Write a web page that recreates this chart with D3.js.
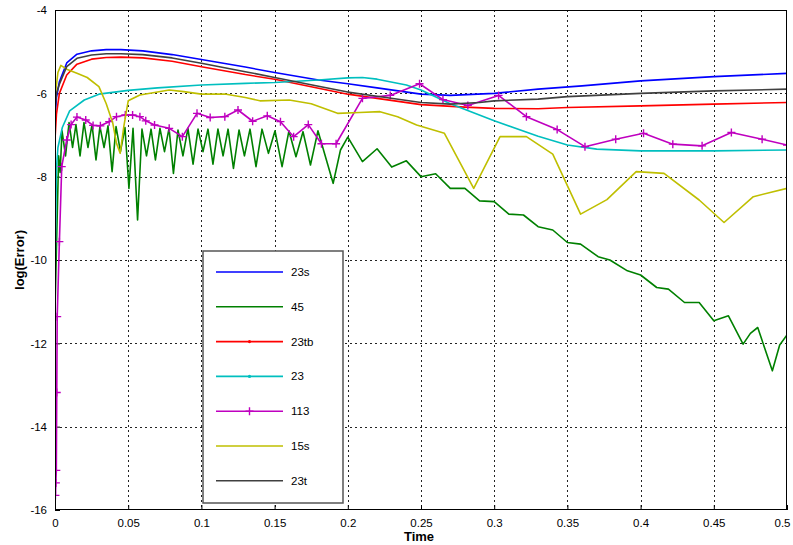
<!DOCTYPE html>
<html><head><meta charset="utf-8">
<script src="https://cdn.jsdelivr.net/npm/d3@7"></script>
<style>body{margin:0;background:#fff}svg{display:block;font-family:"Liberation Sans",Arial,sans-serif}</style>
</head><body><svg id="c" width="793" height="545"></svg>
<script>
const seriesNames = ["23s","45","23tb","23","113","15s","23t"];
const seriesColors = ["#0000ff","#008000","#ff0000","#00bfbf","#bf00bf","#bfbf00","#404040"];
const xTicks = [0,0.05,0.1,0.15,0.2,0.25,0.3,0.35,0.4,0.45,0.5];
const xTickLabels = ["0","0.05","0.1","0.15","0.2","0.25","0.3","0.35","0.4","0.45","0.5"];
const yTicks = [-4,-6,-8,-10,-12,-14,-16];
const yTickLabels = ["-4","-6","-8","-10","-12","-14","-16"];

const t23s = [0,0.001,0.003,0.008,0.015,0.025,0.035,0.045,0.06,0.08,0.1,0.13,0.15,0.18,0.2,0.22,0.25,0.27,0.3,0.33,0.36,0.4,0.45,0.5];
const v23s = [-6.6,-6.1,-5.72,-5.27,-5.06,-4.98,-4.95,-4.95,-4.98,-5.07,-5.19,-5.37,-5.5,-5.68,-5.77,-5.87,-6.02,-6.05,-6.0,-5.9,-5.82,-5.7,-5.6,-5.52];

const t45 = [0,0.0012,0.0025,0.0035,0.0048,0.0072,0.0096,0.012,0.0143,0.0171,0.0198,0.0225,0.0253,0.028,0.0307,0.0335,0.0362,0.039,0.0417,0.0447,0.0478,0.0505,0.0533,0.0564,0.0594,0.0625,0.0656,0.0686,0.0717,0.0748,0.0779,0.0809,0.084,0.0874,0.0908,0.0943,0.0977,0.1011,0.1045,0.1079,0.1113,0.1148,0.1182,0.1219,0.1257,0.1294,0.1332,0.1373,0.1414,0.1458,0.1503,0.1551,0.1598,0.1646,0.1694,0.1745,0.1796,0.19,0.195,0.2,0.21,0.22,0.23,0.24,0.25,0.26,0.27,0.28,0.29,0.3,0.31,0.32,0.33,0.34,0.35,0.359,0.371,0.379,0.391,0.4,0.411,0.419,0.43,0.44,0.45,0.46,0.47,0.475,0.48,0.49,0.495,0.5];
const v45 = [-11.2,-9.4,-7.5,-7.9,-6.9,-7.5,-6.7,-7.3,-6.75,-7.5,-6.7,-7.3,-6.75,-7.6,-6.8,-7.3,-6.78,-7.88,-6.8,-7.4,-6.82,-8.28,-6.84,-9.04,-6.86,-7.5,-6.86,-7.6,-6.84,-7.4,-6.84,-7.92,-6.88,-7.5,-6.84,-7.7,-6.86,-7.4,-6.86,-7.7,-6.86,-7.5,-6.86,-7.8,-6.88,-7.5,-6.86,-7.76,-6.86,-7.44,-6.9,-7.76,-6.9,-7.52,-6.92,-7.72,-6.9,-8.16,-7.36,-7.05,-7.64,-7.33,-7.77,-7.62,-8.0,-7.93,-8.28,-8.28,-8.58,-8.6,-8.9,-8.92,-9.2,-9.28,-9.58,-9.62,-9.92,-10.0,-10.26,-10.36,-10.66,-10.7,-11.02,-11.02,-11.46,-11.34,-12.02,-11.76,-11.62,-12.66,-12.04,-11.8];

const t23tb = [0,0.001,0.003,0.008,0.015,0.025,0.035,0.045,0.06,0.08,0.1,0.13,0.15,0.18,0.2,0.22,0.25,0.28,0.3,0.33,0.35,0.4,0.45,0.5];
const v23tb = [-7.1,-6.5,-6.0,-5.56,-5.3,-5.18,-5.14,-5.13,-5.15,-5.23,-5.36,-5.55,-5.66,-5.88,-6.02,-6.12,-6.27,-6.33,-6.36,-6.37,-6.34,-6.3,-6.26,-6.22];

const t23 = [0,0.001,0.002,0.005,0.01,0.02,0.03,0.05,0.07,0.1,0.13,0.15,0.18,0.2,0.21,0.22,0.24,0.25,0.27,0.3,0.33,0.35,0.37,0.4,0.45,0.5];
const v23 = [-10.4,-7.8,-7.3,-6.82,-6.42,-6.16,-6.02,-5.93,-5.87,-5.8,-5.76,-5.74,-5.68,-5.63,-5.62,-5.66,-5.8,-5.92,-6.25,-6.66,-7.03,-7.24,-7.34,-7.38,-7.38,-7.36];

const t113 = [0.0003,0.0006,0.0009,0.0012,0.0015,0.003,0.0046,0.008,0.011,0.015,0.021,0.026,0.031,0.037,0.042,0.048,0.053,0.058,0.062,0.068,0.078,0.087,0.097,0.106,0.116,0.125,0.135,0.145,0.154,0.163,0.173,0.182,0.192,0.21,0.229,0.249,0.265,0.282,0.303,0.322,0.343,0.362,0.383,0.402,0.422,0.442,0.462,0.483,0.5];
const v113 = [-15.65,-15.35,-15.05,-13.18,-11.36,-9.56,-7.76,-7.12,-6.75,-6.57,-6.64,-6.77,-6.78,-6.68,-6.56,-6.52,-6.52,-6.56,-6.66,-6.76,-6.84,-7.04,-6.48,-6.58,-6.56,-6.4,-6.67,-6.54,-6.68,-7.04,-6.75,-7.21,-7.21,-6.12,-6.05,-5.77,-6.15,-6.29,-6.05,-6.56,-6.87,-7.28,-7.1,-6.96,-7.22,-7.26,-6.94,-7.1,-7.24];

const t15s = [0,0.002,0.004,0.008,0.015,0.022,0.03,0.035,0.0395,0.042,0.0445,0.047,0.05,0.058,0.068,0.078,0.088,0.1,0.117,0.13,0.14,0.16,0.175,0.193,0.208,0.222,0.234,0.247,0.266,0.286,0.304,0.322,0.34,0.359,0.377,0.397,0.416,0.44,0.457,0.477,0.5];
const v15s = [-6.1,-5.5,-5.33,-5.42,-5.52,-5.62,-5.84,-6.25,-6.72,-7.2,-7.44,-6.8,-6.18,-6.04,-5.98,-5.92,-5.96,-6.02,-6.02,-6.1,-6.18,-6.16,-6.25,-6.48,-6.46,-6.44,-6.56,-6.76,-6.96,-8.28,-7.04,-7.04,-7.46,-8.9,-8.55,-7.88,-7.92,-8.56,-9.1,-8.48,-8.28];

const t23t = [0,0.001,0.003,0.008,0.015,0.025,0.035,0.045,0.06,0.08,0.1,0.13,0.15,0.18,0.2,0.22,0.25,0.27,0.29,0.3,0.33,0.35,0.4,0.45,0.5];
const v23t = [-6.4,-6.0,-5.78,-5.36,-5.16,-5.08,-5.05,-5.05,-5.07,-5.15,-5.28,-5.48,-5.62,-5.83,-5.97,-6.07,-6.22,-6.26,-6.22,-6.18,-6.14,-6.08,-6.0,-5.94,-5.9];

const seriesT = [t23s,t45,t23tb,t23,t113,t15s,t23t];
const seriesV = [v23s,v45,v23tb,v23,v113,v15s,v23t];
const legendMarker = [null,null,"dot","dot","plus",null,null];

const svg = d3.select("#c");
const L=55, R=787, T=10, B=510;
const x = d3.scaleLinear().domain([0,0.5]).range([L,R]);
const y = d3.scaleLinear().domain([-16,-4]).range([B,T]);

svg.append("rect").attr("x",L).attr("y",T).attr("width",R-L).attr("height",B-T).attr("fill","#fff");
svg.append("defs").append("clipPath").attr("id","clip").append("rect").attr("x",L).attr("y",T).attr("width",R-L).attr("height",B-T);

// grid
const grid = svg.append("g").attr("stroke","#222").attr("stroke-width",1).attr("stroke-dasharray","2,3");
grid.selectAll("line.v").data(xTicks.slice(1,-1)).enter().append("line")
  .attr("x1",d=>Math.round(x(d))+0.5).attr("x2",d=>Math.round(x(d))+0.5).attr("y1",T).attr("y2",B);
grid.selectAll("line.h").data(yTicks.slice(1,-1)).enter().append("line")
  .attr("y1",d=>Math.round(y(d))+0.5).attr("y2",d=>Math.round(y(d))+0.5).attr("x1",L).attr("x2",R);

// axes
const xAxis = d3.axisBottom(x).tickValues(xTicks).tickFormat((d,i)=>xTickLabels[i]).tickSizeInner(-5).tickSizeOuter(0).tickPadding(9);
const yAxis = d3.axisLeft(y).tickValues(yTicks).tickFormat((d,i)=>yTickLabels[i]).tickSizeInner(-5).tickSizeOuter(0).tickPadding(8);
const gx = svg.append("g").attr("transform",`translate(0,${B})`).call(xAxis);
const gy = svg.append("g").attr("transform",`translate(${L},0)`).call(yAxis);
[gx,gy].forEach(g=>{g.select(".domain").remove();g.selectAll("text").attr("font-size",11.5).attr("fill","#000").attr("font-family","Liberation Sans, Arial, sans-serif");g.selectAll("line").attr("stroke","#000");});
gx.selectAll(".tick text").filter(d=>d===0.5).attr("text-anchor","end").attr("dx",3);

// series
const plot = svg.append("g").attr("clip-path","url(#clip)");
const line = d3.line().x(d=>x(d[0])).y(d=>y(d[1]));
seriesNames.forEach((n,i)=>{
  const pts = seriesT[i].map((t,j)=>[t,seriesV[i][j]]);
  plot.append("path").datum(pts).attr("d",line).attr("fill","none").attr("stroke",seriesColors[i]).attr("stroke-width",1.6).attr("stroke-linejoin","round");
  if(legendMarker[i]==="plus"){
    plot.selectAll(null).data(pts).enter().append("path")
      .attr("d",d=>`M${x(d[0])-4},${y(d[1])}h8M${x(d[0])},${y(d[1])-4}v8`)
      .attr("stroke",seriesColors[i]).attr("stroke-width",1.4);
  }
});

// frame
svg.append("rect").attr("x",L+0.5).attr("y",T+0.5).attr("width",R-L-1).attr("height",B-T-1).attr("fill","none").attr("stroke","#000").attr("stroke-width",1);

// legend
const lg = svg.append("g");
lg.append("rect").attr("x",203).attr("y",251).attr("width",140).attr("height",252).attr("fill","#fff").attr("stroke","#555").attr("stroke-width",1.5);
seriesNames.forEach((n,i)=>{
  const yy = 272 + i*34.8;
  lg.append("line").attr("x1",216).attr("x2",283).attr("y1",yy).attr("y2",yy).attr("stroke",seriesColors[i]).attr("stroke-width",1.6);
  if(legendMarker[i]==="plus"){
    lg.append("path").attr("d",`M${249.5-4},${yy}h8M249.5,${yy-4}v8`).attr("stroke",seriesColors[i]).attr("stroke-width",1.4);
  } else if(legendMarker[i]==="dot"){
    lg.append("circle").attr("cx",249.5).attr("cy",yy).attr("r",1.6).attr("fill",seriesColors[i]);
  }
  lg.append("text").attr("x",291).attr("y",yy+4).attr("font-size",11.5).text(n);
});

// axis labels
svg.append("text").attr("x",419).attr("y",541).attr("text-anchor","middle").attr("font-weight","bold").attr("font-size",13).text("Time");
svg.append("text").attr("transform","translate(24,260) rotate(-90)").attr("text-anchor","middle").attr("font-weight","bold").attr("font-size",13).text("log(Error)");
</script></body></html>
